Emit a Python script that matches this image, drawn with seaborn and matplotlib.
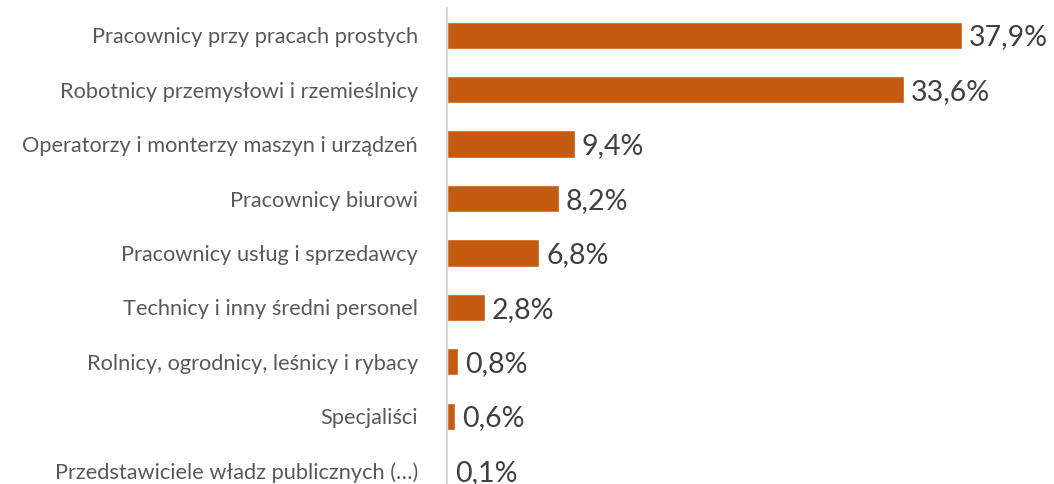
import matplotlib
matplotlib.use("Agg")
import matplotlib.pyplot as plt
import seaborn as sns
import pandas as pd

categories = [
    "Pracownicy przy pracach prostych",
    "Robotnicy przemysłowi i rzemieślnicy",
    "Operatorzy i monterzy maszyn i urządzeń",
    "Pracownicy biurowi",
    "Pracownicy usług i sprzedawcy",
    "Technicy i inny średni personel",
    "Rolnicy, ogrodnicy, leśnicy i rybacy",
    "Specjaliści",
    "Przedstawiciele władz publicznych (…)",
]
values = [37.9, 33.6, 9.4, 8.2, 6.8, 2.8, 0.8, 0.6, 0.1]
value_labels = ["37,9%", "33,6%", "9,4%", "8,2%", "6,8%", "2,8%", "0,8%", "0,6%", "0,1%"]

sns.set_style("white")
plt.rcParams["font.family"] = ["Lato", "DejaVu Sans"]

df = pd.DataFrame({"cat": categories, "val": values})

fig = plt.figure(figsize=(10.54, 4.84), dpi=100)
ax = fig.add_axes([447 / 1054, 0.0, 1 - 447 / 1054, 476 / 484])
sns.barplot(data=df, y="cat", x="val", color="#C55A11", saturation=1, width=0.5, ax=ax, orient="h")

ax.set_xlim(0, (1054 - 447) / 13.6)
ax.set_ylim(8.245, -0.5)
for s in ["top", "right", "bottom"]:
    ax.spines[s].set_visible(False)
ax.spines["left"].set_color("#D9D9D9")
ax.spines["left"].set_linewidth(1.5)
ax.set_xticks([])
ax.set_xlabel("")
ax.set_ylabel("")
ax.tick_params(axis="y", length=0, pad=21, labelsize=15.7, labelcolor="#595959")

for i, (v, lab) in enumerate(zip(values, value_labels)):
    ax.text(v + 0.5, i + 0.04, lab, va="center", ha="left", fontsize=20.5, color="#404040")

fig.savefig("out.png", dpi=100)
